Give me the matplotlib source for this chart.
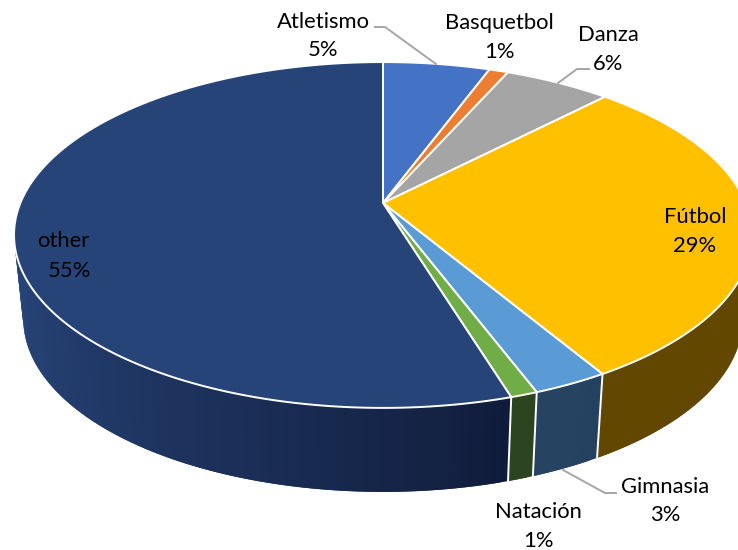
import numpy as np
import matplotlib
matplotlib.use("Agg")
import matplotlib.pyplot as plt
from matplotlib.patches import Polygon

plt.rcParams['font.family'] = ['Lato', 'DejaVu Sans']

categories = ["Atletismo", "Basquetbol", "Danza", "Fútbol", "Gimnasia", "Natación", "other"]
values = [5.6, 1.0, 5.6, 29.3, 2.8, 1.0, 54.7]
pct_labels = ["5%", "1%", "6%", "29%", "3%", "1%", "55%"]
top_colors = ["#4472C4", "#ED7D31", "#A5A5A5", "#FFC000", "#5B9BD5", "#70AD47", "#264478"]
# side colour at start and end of each slice (going clockwise)
side_start = ["#2A4476", "#8E4B1D", "#636363", "#6B4F00", "#23405F", "#2C4520", "#0F1A38"]
side_end = ["#2A4476", "#8E4B1D", "#636363", "#614700", "#264462", "#2C4520", "#274478"]

# projection of the pie plane (pixels)
CX, CY, K, A, B = 383.0, 203.0, 0.185, 167.0, 362.6
DEPTH, SHRINK = 84.0, 0.975


def rim(theta, lower=False):
    u, v = np.sin(theta), -np.cos(theta)
    w = 1 - K * v
    x = B * u / w
    y = A * v / w
    if lower:
        return CX + SHRINK * x, CY + y + DEPTH
    return CX + x, CY + y


fig = plt.figure(figsize=(7.38, 5.5), dpi=100)
ax = fig.add_axes([0, 0, 1, 1])
ax.set_xlim(0, 738)
ax.set_ylim(550, 0)
ax.axis("off")

edges = np.concatenate([[0], np.cumsum(values)]) / np.sum(values) * 2 * np.pi

# sides: strips drawn slice by slice, each strip overlapping the last
for i in range(len(values)):
    n = max(4, int((edges[i + 1] - edges[i]) / 0.02))
    th = np.linspace(edges[i], edges[i + 1], n + 1)
    c0 = np.array(matplotlib.colors.to_rgb(side_start[i]))
    c1 = np.array(matplotlib.colors.to_rgb(side_end[i]))
    for j in range(n):
        f = min(1.0, ((j + 0.5) / n) / 0.45) ** 0.8
        col = c0 + (c1 - c0) * f
        t1 = th[min(j + 2, n)]
        xa, ya = rim(np.array([th[j], t1]))
        xb, yb = rim(np.array([t1, th[j]]), True)
        ax.add_patch(Polygon(np.c_[np.r_[xa, xb], np.r_[ya, yb]], closed=True,
                             facecolor=col, edgecolor="none", zorder=2))

# white separators on the side
for e in edges[:-1]:
    if -np.cos(e) > 0:
        x0, y0 = rim(e)
        x1, y1 = rim(e, True)
        ax.plot([x0, x1], [y0, y1], color="white", lw=1.4, zorder=3)

# top face
for i in range(len(values)):
    th = np.linspace(edges[i], edges[i + 1], 200)
    x, y = rim(th)
    ax.add_patch(Polygon(np.c_[np.r_[CX, x], np.r_[CY, y]], closed=True,
                         facecolor=top_colors[i], edgecolor="white", lw=1.4,
                         joinstyle="round", zorder=4))

# leader lines
leaders = {
    "Atletismo": ([375, 385, 436], [27, 27, 64]),
    "Danza": ([589, 577, 558], [69, 69, 83]),
    "Gimnasia": ([563, 605, 616], [470, 493, 493]),
}
for xs, ys in leaders.values():
    ax.plot(xs, ys, color="#A6A6A6", lw=1.4, zorder=5, solid_joinstyle="miter")

# labels: name (x, y), percent (x, y)
label_pos = {
    "Atletismo": (323, 22, 323, 50),
    "Basquetbol": (499, 23, 499, 52),
    "Danza": (608, 35, 608, 64),
    "Fútbol": (695, 217, 695, 246),
    "Gimnasia": (665, 487, 665, 515),
    "Natación": (538, 512, 538, 541),
    "other": (63, 241, 69, 271),
}
FS = 15.8
for name, pct in zip(categories, pct_labels):
    nx, ny, px, py = label_pos[name]
    ax.text(nx, ny, name, ha="center", va="center", fontsize=FS, color="black", zorder=6)
    ax.text(px, py, pct, ha="center", va="center", fontsize=FS, color="black", zorder=6)

fig.savefig("out.png", dpi=100)
